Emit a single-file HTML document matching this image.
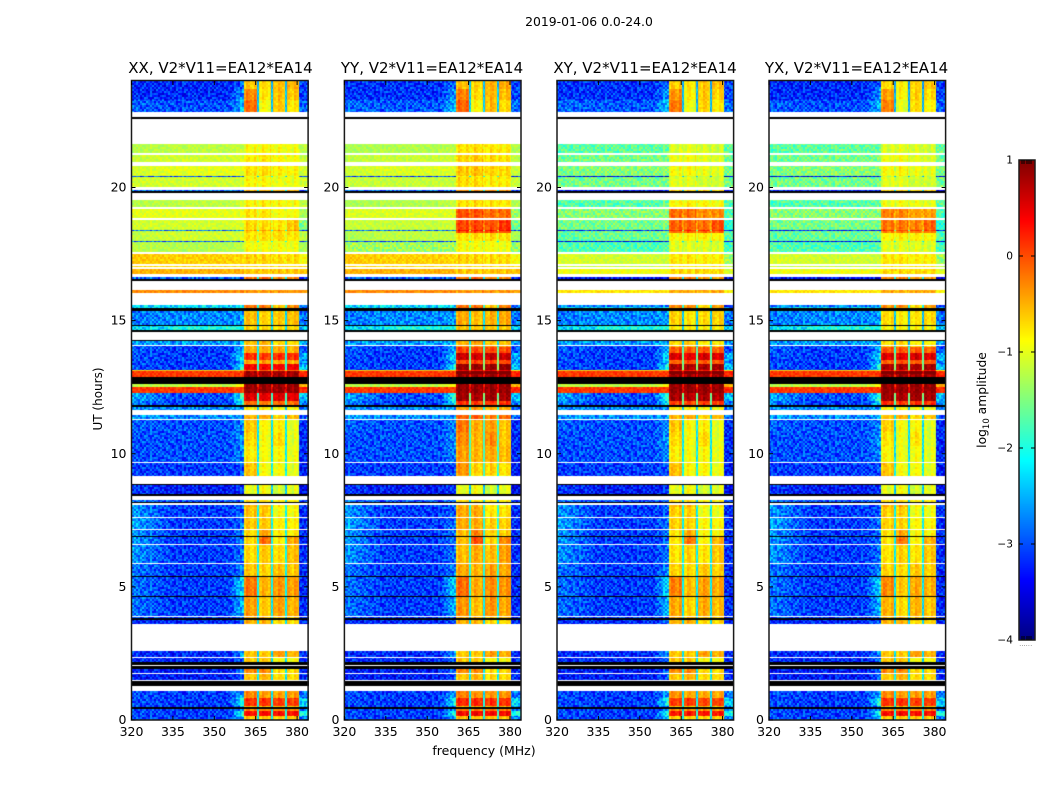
<!DOCTYPE html>
<html lang="en">
<head>
<meta charset="utf-8">
<title>2019-01-06 dynamic spectra</title>
<style>
html,body{margin:0;padding:0;background:#fff;}
#figure{position:relative;width:1050px;height:800px;overflow:hidden;background:#fff;font-family:"DejaVu Sans","Liberation Sans",sans-serif;}
canvas{position:absolute;display:block;}
#overlay{position:absolute;left:0;top:0;}
text{font-family:"DejaVu Sans","Liberation Sans",sans-serif;fill:#000;}
</style>
</head>
<body>
<div id="figure">
<svg id="overlay" width="1050" height="800" xmlns="http://www.w3.org/2000/svg"></svg>
</div>
<script>
// ---------- chart data: values estimated by eye from the reference ----------
const W = null;      // no data: white gap
const K = 'k';       // flagged row: black
const panelTitles = ['XX, V2*V11=EA12*EA14','YY, V2*V11=EA12*EA14','XY, V2*V11=EA12*EA14','YX, V2*V11=EA12*EA14'];
const panelIds = ['xx','yy','xy','yx'];
const xTicks = [320,335,350,365,380];
const yTicks = [0,5,10,15,20];
const cbarTicks = [1,0,-1,-2,-3,-4];
// UT start hour of every time band (each band ends where the next one starts; the last ends at 24)
const bandStart = [
 0,.15,.34,.41,.47,.53,.83,1.09,1.28,1.46,
 1.52,1.73,1.76,1.92,2.03,2.08,2.18,2.31,2.38,2.59,
 3.6,3.76,3.83,3.87,3.91,4.62,4.66,5.37,5.41,5.86,
 5.9,6.57,6.61,6.87,6.91,7.13,7.17,7.59,7.62,8.07,
 8.15,8.19,8.27,8.43,8.5,8.84,8.88,9.16,9.65,9.69,
 10.3,10.8,11.27,11.32,11.46,11.64,11.76,11.83,12,12.28,
 12.5,12.62,12.88,13.11,13.15,13.38,13.53,13.8,14.05,14.09,
 14.23,14.27,14.57,14.65,14.8,14.83,15.36,15.47,15.58,16.03,
 16.15,16.49,16.56,16.64,16.75,16.94,17.01,17.05,17.12,17.5,
 17.57,17.95,17.99,18.36,18.4,18.78,18.85,19.19,19.26,19.53,
 19.79,19.88,19.92,20.01,20.39,20.43,20.8,20.95,21.22,21.29,
 21.63,22.57,22.64,22.83,23.3,23.7
];
// XX log10 amplitude per band: [320 MHz, 335-355 MHz, 360 MHz, sub-band 1, 2, 3, 4, notches, 381-384 MHz]
const xxLevels = [
 [-2.8,-2.9,-2.2,-.6,-.6,-.6,-.6,-1.8,-2.6],[-2.8,-2.9,-1.8,.35,.4,.35,.35,-1.4,-2],[-2.8,-2.9,-2.4,-.3,-.3,-.3,-.3,-1.8,-2.6],K,[-2.8,-2.9,-2.5,-.6,-.6,-.6,-.6,-1.8,-2.5],
 [-2.8,-2.9,-1.8,.15,.15,.1,.1,-1.5,-2.1],[-2.8,-2.9,-2.3,-.3,-.4,-.4,-.4,-1.8,-2.6],W,K,W,
 [-3.1,-3.1,-2.7,-.6,-.5,-.7,-.7,-1.7,-3],W,[-3.1,-3.1,-2.6,-.3,-.3,-.7,-.7,-1.7,-3],K,W,K,[-3,-3,-2.7,-.6,-.6,-.9,-.9,-1.8,-3],W,[-3,-3,-2.4,-.6,-.6,-.4,-.5,-1.8,-3],W,
 [-3,-3,-2.7,-.5,-.5,-.7,-.7,-1.8,-3],K,[-2.8,-2.9,-2.7,-.5,-.5,-.6,-.6,-1.8,-3],W,[-2.6,-2.9,-2.2,-.3,-.5,-.3,-.4,-1.6,-3],K,[-2.6,-2.9,-2,-.1,-.4,-.25,-.3,-1.5,-3],K,[-2.6,-2.9,-2.5,-.5,-.55,-.45,-.5,-1.5,-3],W,
 [-2.4,-2.9,-2.6,-.6,-.5,-.6,-.45,-1.5,-3],W,[-2.4,-2.9,-2.6,-.6,-.05,-.7,-.35,-1.5,-3],K,[-2.4,-2.9,-2.6,-.6,-.3,-.7,-.7,-1.5,-3],W,[-2.3,-2.9,-2.6,-.5,-.5,-.7,-.7,-1.5,-3],W,[-2.4,-2.9,-2.7,-.5,-.5,-.8,-.8,-1.5,-3],W,
 K,[-2.6,-2.8,-2.7,-.7,-.7,-.8,-.8,-1.8,-2.9],W,K,[-2.9,-3.1,-2.9,-1,-.9,-1.1,-1,-1.9,-3.2],K,W,[-2.9,-2.9,-2.8,-.5,-.8,-.8,-.9,-1.5,-3.1],W,[-2.8,-2.8,-2.5,-.7,-.8,-.75,-.85,-1.6,-3],
 [-2.8,-2.8,-2.4,-.6,-.8,-.6,-.9,-1.6,-3],[-2.7,-2.8,-2.5,-.5,-.75,-.7,-.9,-1.6,-3],W,[-2.4,-2.5,-2.4,-.4,-.35,-.55,-.45,-1.7,-2.7],W,[-2.5,-2.5,-2.4,-.7,-.7,-.8,-.8,-1.8,-2.6],K,[-2.5,-2.9,-1.9,-.15,-.2,-.15,-.15,-1.4,-2.6],[-2.3,-2.8,-1.7,.55,.5,.55,.5,-1.3,-2.2],[.1,.1,.1,.9,.9,.9,.9,.5,.2],
 [-1.2,-1.2,-.8,.9,.9,.9,.9,.2,-.5],K,[.1,.1,.1,.85,.85,.85,.85,.3,.2],[-.6,-.6,-.6,-.1,-.1,-.1,-.1,-.6,-.7],[-2.8,-2.9,-1.8,.4,.4,.4,.45,-1.4,-2.2],[-2.8,-2.9,-2.2,-.5,-.4,-.45,-.45,-1.5,-2.5],[-2.8,-2.9,-1.9,.15,.1,.2,.15,-1.5,-2.3],[-2.7,-2.9,-2.3,-.45,-.45,-.45,-.5,-1.7,-2.8],W,[-2.4,-2.4,-2.3,-.6,-.5,-.7,-.7,-1.8,-2.4],
 K,W,K,[-2.1,-2,-2,-.7,-.7,-.7,-.7,-1.8,-2.2],K,[-2.6,-2.5,-2.4,-.55,-.65,-.6,-.55,-1.8,-2.6],K,[-2.1,-2.1,-2.1,-.2,-.2,-.6,-.3,-1.4,-2.6],W,[-.3,-.3,-.3,-.35,-.35,-.35,-.35,-.4,-.4],
 W,K,[-2.7,-2.7,-2.7,-.2,-.1,-.3,-.3,-1.5,-2.9],W,[-.5,-.5,-.5,-.6,-.6,-.6,-.6,-.6,-.6],W,[-.7,-.7,-.7,-.7,-.7,-.7,-.7,-.7,-.7],W,[-.6,-.65,-.7,-.65,-.65,-.7,-.7,-.8,-.9],W,
 [-1.2,-1.25,-1.2,-.9,-.9,-.9,-.95,-1.1,-1.3],[-2.7,-2.7,-2.7,-1,-1,-1,-1,-1.5,-2.8],[-1.2,-1.1,-1.05,-.75,-.7,-.7,-.75,-1,-1.2],[-2.6,-2.6,-2.6,-.4,-.4,-.4,-.4,-1.5,-2.8],[-1.1,-1.1,-1.05,-.7,-.7,-.75,-.6,-1,-1.5],W,[-1,-1,-1,-.75,-.75,-.9,-.9,-1,-1.3],W,[-1.25,-1.2,-1.1,-.85,-.8,-.85,-.9,-1,-1.2],W,
 K,[-2.6,-2.6,-2.6,-.5,-.5,-.5,-.5,-1.6,-2.8],W,[-1.1,-1.1,-1.1,-.85,-.85,-.95,-.95,-1,-1.1],[-2.8,-2.8,-2.8,-1,-1,-1,-1,-1.8,-2.9],[-1.1,-1,-1,-.75,-.7,-.8,-.85,-1,-1.1],W,[-1.15,-1.1,-1.05,-.8,-.75,-.85,-.9,-1,-1.15],W,[-1.25,-1.2,-1.15,-.9,-.85,-.9,-.95,-1,-1.2],
 W,K,W,[-2.7,-2.8,-2.2,-.15,-.9,-.6,-.75,-1.9,-2.7],[-3,-3,-2.4,-.3,-.75,-.55,-.6,-1.9,-2.9],[-3,-3,-2.7,-.6,-.7,-.55,-.5,-2,-2.9]
];
// Per-polarisation adjustment relative to the table above, as step functions of UT hour
const boostHours = [0,1.1,3.9,5.4,8,9.2,9.7,11.8,12.3,13,14,15.5,17.5,18.3,19.2,19.5,22,22.8];
const xxSignalBoost = [0,0,-.1,-.1,0,-.1,-.1,0,0,0,0,0,0,0,0,0,0,0];
const yySignalBoost = [.05,0,-.05,.05,0,.15,.3,.3,0,.5,.1,0,0,.75,.1,.15,0,.05];
const xySignalBoost = [-.05,0,-.15,-.15,0,-.05,-.1,.25,0,.4,-.1,-.1,-.1,.6,0,-.15,0,-.05];
const yxSignalBoost = [0,0,-.2,-.15,0,-.1,-.15,.3,0,.4,-.15,-.1,-.1,.5,-.1,-.15,0,-.1];
const yyBackBoost = [0,0,0,0,0,0,0,0,0,0,0,0,-.1,-.05,-.05,-.05,0,.05];
const xyBackBoost = [0,0,0,0,0,0,0,0,0,0,0,-.45,-.5,-.45,-.5,-.45,0,.05];
const yxBackBoost = [0,0,0,0,0,0,0,0,0,0,0,-.45,-.5,-.45,-.5,-.45,0,0];
// Channel-scale speckle texture seen in the reference (digits 0-9, centred on 4.5), tiled over the cells
const speckleTile = [
 '72950418637205916483027519684','15836092471850372964158207936','90372681549263810745936418205',
 '46105937282719465038217690543','83629150476093582716409352781','27514863090145729683051874926',
 '61947025386872104395768231059','39082716594340687125493860217','54760398121986243570812649375',
 '08293475618527390146273958604','76418209535061847293650127489','12605983747395016428941736052',
 '95371640282648753901384265170'
];
const combPattern = [-.12,.1,.04,-.06];
// ---------- layout ----------
const plotLeft = [131.5,344.4,557,769];
const titleCentre = [220.5,432,645,856.5];
const plotW = 176.6, plotTop = 81, plotBottom = 720;
const pxPerMHz = 2.76, xMin = 320;
const hourMax = 24;
const cbarX = 1019, cbarW = 16, cbarTop = 160, cbarBottom = 640, cbarMin = -4, cbarMax = 1;
function xScale(f){ return (f-xMin)*pxPerMHz; }
function xInverse(px){ return xMin+px/pxPerMHz; }
function yScale(h){ return plotBottom-(h/hourMax)*(plotBottom-plotTop); }
function yInverse(y){ return (plotBottom-y)/(plotBottom-plotTop)*hourMax; }
function cbarScale(v){ return cbarBottom-(v-cbarMin)/(cbarMax-cbarMin)*(cbarBottom-cbarTop); }
function clamp(a){ return a<0?0:a>1?1:a; }
function jet(v){
  const t=clamp((v-cbarMin)/(cbarMax-cbarMin));
  return [clamp(Math.min(4*t-1.5,-4*t+4.5)),clamp(Math.min(4*t-.5,-4*t+3.5)),clamp(Math.min(4*t+.5,-4*t+2.5))].map(function(c){return Math.round(c*255);});
}
function stepLookup(hours,values,h){
  let i=0;
  while(i+1<hours.length && h>=hours[i+1]) i++;
  return values[i];
}
function bandIndex(h){
  let i=0;
  while(i+1<bandStart.length && h>=bandStart[i+1]) i++;
  return i;
}
const signalBoosts = [xxSignalBoost,yySignalBoost,xySignalBoost,yxSignalBoost];
const backBoosts = [null,yyBackBoost,xyBackBoost,yxBackBoost];
const backgroundShift = -.2, notchShift = -.5;
function notchLevel(n){ return n<-1.2 ? n+notchShift : n; }
function cellLevel(row,f,sb,bb,sp,comb){
  let v, signal=false, notch=false;
  if(f<335) v=row[0]+(row[1]-row[0])*(f-320)/15;
  else if(f<355) v=row[1];
  else if(f<360.7) v=row[1]+(row[2]-row[1])*(f-355)/5.7;
  else if(f<365.3){v=row[3];signal=true;}
  else if(f<366){v=notchLevel(row[7]);notch=true;}
  else if(f<370.4){v=row[4];signal=true;}
  else if(f<371.1){v=notchLevel(row[7]);notch=true;}
  else if(f<375.5){v=row[5];signal=true;}
  else if(f<376.2){v=notchLevel(row[7]);notch=true;}
  else if(f<380.4){v=row[6];signal=true;}
  else v=row[8];
  if(signal) return v+sb+comb+sp*.12;
  if(notch) return v+sb+sp*.2;
  v+=bb;
  if(v<-2) return v+backgroundShift+sp*.42;
  return v+sp*(v<-1.3?.32:.15);
}
function drawHeatmap(ctx,panel,w,h){
  const img=ctx.createImageData(w,h), d=img.data;
  for(let y=0;y<h;y++){
    const hour=yInverse(plotTop+y+.5);
    const row=xxLevels[bandIndex(hour)];
    const sb=stepLookup(boostHours,signalBoosts[panel],hour);
    const bb=panel?stepLookup(boostHours,backBoosts[panel],hour):0;
    const tr=speckleTile[(Math.floor(y/2)+panel*5)%speckleTile.length];
    for(let x=0;x<w;x++){
      const i=(y*w+x)*4;
      let c;
      if(row===W) c=[255,255,255];
      else if(row===K) c=[0,0,0];
      else{
        const col=Math.floor(x/2);
        const sp=(+tr.charAt((col+panel*7)%tr.length)-4.5)/4.5;
        c=jet(cellLevel(row,xInverse(x+.5),sb,bb,sp,combPattern[col%combPattern.length]));
      }
      d[i]=c[0];d[i+1]=c[1];d[i+2]=c[2];d[i+3]=255;
    }
  }
  ctx.putImageData(img,0,0);
}
// ---------- drawing ----------
const svg=document.getElementById('overlay');
const figure=document.getElementById('figure');
const NS='http://www.w3.org/2000/svg';
function mk(tag,props,txt){
  const e=document.createElementNS(NS,tag);
  for(const k in props) e.setAttribute(k,props[k]);
  if(txt!==undefined) e.textContent=txt;
  svg.appendChild(e);
  return e;
}
function tickLine(x1,y1,x2,y2,name){
  const e=mk('line',{x1:x1,y1:y1,x2:x2,y2:y2,stroke:'#000','stroke-width':1});
  
  
}
const suptitle=mk('text',{x:589,y:26,'text-anchor':'middle','font-size':12.4},'2019-01-06 0.0-24.0');



panelIds.forEach(function(id,p){
  const left=plotLeft[p], iw=Math.round(plotW), ih=plotBottom-plotTop;
  const cv=document.createElement('canvas');
  cv.width=iw; cv.height=ih;
  cv.style.left=Math.round(left)+'px'; cv.style.top=plotTop+'px';
  
  
  figure.insertBefore(cv,svg);
  drawHeatmap(cv.getContext('2d'),p,iw,ih);

  const frame=mk('rect',{x:left,y:plotTop-.5,width:plotW,height:ih+.5,fill:'none',stroke:'#1a1a1a','stroke-width':1.5});
  
  

  const title=mk('text',{x:titleCentre[p],y:73,'text-anchor':'middle','font-size':15},panelTitles[p]);
  
  

  xTicks.forEach(function(t){
    const x=left+xScale(t);
    tickLine(x,plotBottom,x,plotBottom-4,'x-tick-'+id+'-'+t);
    tickLine(x,plotTop,x,plotTop+4,'x-tick-top-'+id+'-'+t);
    const lab=mk('text',{x:x,y:736,'text-anchor':'middle','font-size':12.5},String(t));
    
    
  });
  yTicks.forEach(function(t){
    const y=yScale(t);
    tickLine(left,y,left+4,y,'y-tick-'+id+'-'+t);
    tickLine(left+plotW,y,left+plotW-4,y,'y-tick-right-'+id+'-'+t);
    const lab=mk('text',{x:left-5,y:y+4,'text-anchor':'end','font-size':12.5},String(t));
    
    
  });
});

const yTitle=mk('text',{x:0,y:0,'text-anchor':'middle','font-size':12,transform:'translate(102,399) rotate(-90)'},'UT (hours)');


const xTitle=mk('text',{x:484,y:755,'text-anchor':'middle','font-size':12.5},'frequency (MHz)');



// colourbar
for(let i=0;i<240;i++){
  const v0=cbarMin+(cbarMax-cbarMin)*i/240, v1=cbarMin+(cbarMax-cbarMin)*(i+1)/240;
  const c=jet((v0+v1)/2);
  const r=mk('rect',{x:cbarX,y:cbarScale(v1),width:cbarW,height:cbarScale(v0)-cbarScale(v1)+.4,fill:'rgb('+c.join(',')+')'});
  
  
}
const cbarFrame=mk('rect',{x:cbarX,y:cbarTop,width:cbarW,height:cbarBottom-cbarTop,fill:'none',stroke:'#1a1a1a','stroke-width':1.5});


cbarTicks.forEach(function(t){
  const y=cbarScale(t);
  if(t>cbarMin && t<cbarMax){
    tickLine(cbarX,y,cbarX+4,y,'colorbar-tick');
    tickLine(cbarX+cbarW,y,cbarX+cbarW-4,y,'colorbar-tick-right');
  }
  const lab=mk('text',{x:1013,y:y+3.5,'text-anchor':'end','font-size':10.6},t<0?'\u2212'+Math.abs(t):String(t));
  
  
});
[3,5,8,10,12].forEach(function(dx){
  tickLine(cbarX+dx,cbarTop,cbarX+dx,cbarTop+4,'colorbar-minor-tick-top');
  tickLine(cbarX+dx,cbarBottom,cbarX+dx,cbarBottom-4,'colorbar-minor-tick-bottom');
});
const cbarDots=mk('text',{x:1026,y:646,'text-anchor':'middle','font-size':5,fill:'#666','letter-spacing':'0.6'},'......');


const cbarTitle=mk('text',{x:0,y:0,'text-anchor':'middle','font-size':12.3,transform:'translate(986,400) rotate(-90)'});


const t1=document.createElementNS(NS,'tspan'); t1.textContent='log';
const t2=document.createElementNS(NS,'tspan'); t2.textContent='10'; t2.setAttribute('font-size','8.5'); t2.setAttribute('dy','3');
const t3=document.createElementNS(NS,'tspan'); t3.textContent=' amplitude'; t3.setAttribute('dy','-3');
cbarTitle.appendChild(t1);cbarTitle.appendChild(t2);cbarTitle.appendChild(t3);
</script>
</body>
</html>
